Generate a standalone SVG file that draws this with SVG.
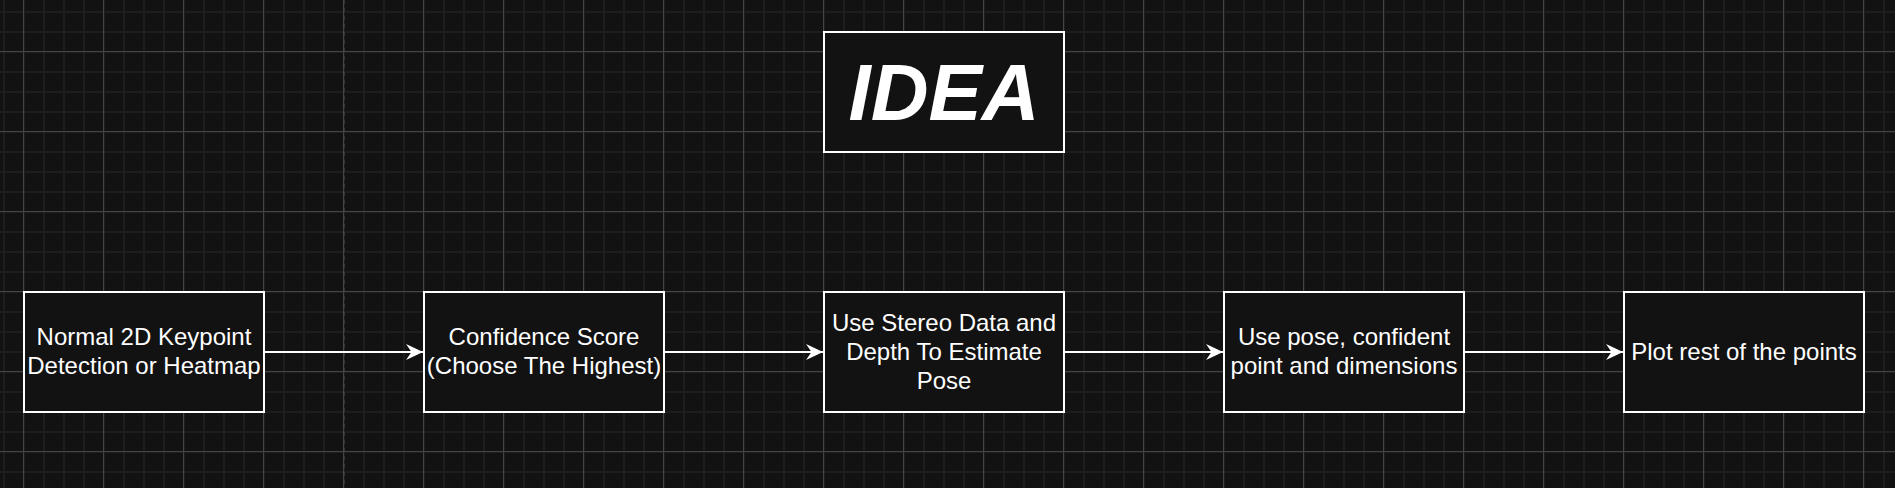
<svg xmlns="http://www.w3.org/2000/svg" width="1895" height="488" viewBox="0 0 1895 488">
  <style>
    .node rect { fill: #121212; stroke: #ffffff; stroke-width: 2; }
    .label { font-family: "Liberation Sans", Arial, Helvetica, sans-serif; font-size: 24px; fill: #ffffff; text-anchor: middle; }
    .title { font-family: "Liberation Sans", Arial, Helvetica, sans-serif; font-size: 80px; font-weight: bold; font-style: italic; fill: #ffffff; text-anchor: middle; }
    .edge { stroke: #ffffff; stroke-width: 2; fill: none; marker-end: url(#arrow); }
  </style>
  <defs>
    <pattern id="grid" patternUnits="userSpaceOnUse" x="3" y="11" width="80" height="80">
      <rect x="0" y="0" width="2" height="80" fill="#1e1e1e"/>
      <rect x="20" y="0" width="2" height="80" fill="#1e1e1e"/>
      <rect x="40" y="0" width="2" height="80" fill="#1e1e1e"/>
      <rect x="60" y="0" width="2" height="80" fill="#1e1e1e"/>
      <rect x="0" y="0" width="80" height="2" fill="#1e1e1e"/>
      <rect x="0" y="20" width="80" height="2" fill="#1e1e1e"/>
      <rect x="0" y="40" width="80" height="2" fill="#1e1e1e"/>
      <rect x="0" y="60" width="80" height="2" fill="#1e1e1e"/>
      <rect x="20" y="0" width="1" height="80" fill="#454545"/>
      <rect x="0" y="40" width="80" height="1" fill="#454545"/>
    </pattern>
    <marker id="arrow" markerUnits="userSpaceOnUse" markerWidth="18" markerHeight="18" viewBox="0 0 18 18" refX="17" refY="9" orient="auto">
      <path d="M0,1 L17,9 L0,17 L5.5,9 Z" fill="#ffffff"/>
    </marker>
  </defs>
  <rect x="0" y="0" width="1895" height="488" fill="#121212"/>
  <rect x="0" y="0" width="1895" height="488" fill="url(#grid)"/>
  <line x1="344" y1="0" x2="344" y2="488" stroke="#4a4a4a" stroke-width="1" stroke-dasharray="4 4"/>

  <g id="title">
    <rect x="824" y="32" width="240" height="120" fill="#121212" stroke="#ffffff" stroke-width="2"/>
    <text class="title" x="944" y="120">IDEA</text>
  </g>

  <g id="connectors">
    <line class="edge" x1="264" y1="352" x2="423" y2="352"/>
    <line class="edge" x1="664" y1="352" x2="823" y2="352"/>
    <line class="edge" x1="1064" y1="352" x2="1223" y2="352"/>
    <line class="edge" x1="1464" y1="352" x2="1623" y2="352"/>
  </g>

  <g id="node1" class="node">
    <rect x="24" y="292" width="240" height="120"/>
    <text class="label" x="144" y="345">Normal 2D Keypoint</text>
    <text class="label" x="144" y="374">Detection or Heatmap</text>
  </g>
  <g id="node2" class="node">
    <rect x="424" y="292" width="240" height="120"/>
    <text class="label" x="544" y="345">Confidence Score</text>
    <text class="label" x="544" y="374">(Choose The Highest)</text>
  </g>
  <g id="node3" class="node">
    <rect x="824" y="292" width="240" height="120"/>
    <text class="label" x="944" y="330.5">Use Stereo Data and</text>
    <text class="label" x="944" y="359.5">Depth To Estimate</text>
    <text class="label" x="944" y="388.5">Pose</text>
  </g>
  <g id="node4" class="node">
    <rect x="1224" y="292" width="240" height="120"/>
    <text class="label" x="1344" y="345">Use pose, confident</text>
    <text class="label" x="1344" y="374">point and dimensions</text>
  </g>
  <g id="node5" class="node">
    <rect x="1624" y="292" width="240" height="120"/>
    <text class="label" x="1744" y="360">Plot rest of the points</text>
  </g>
</svg>
